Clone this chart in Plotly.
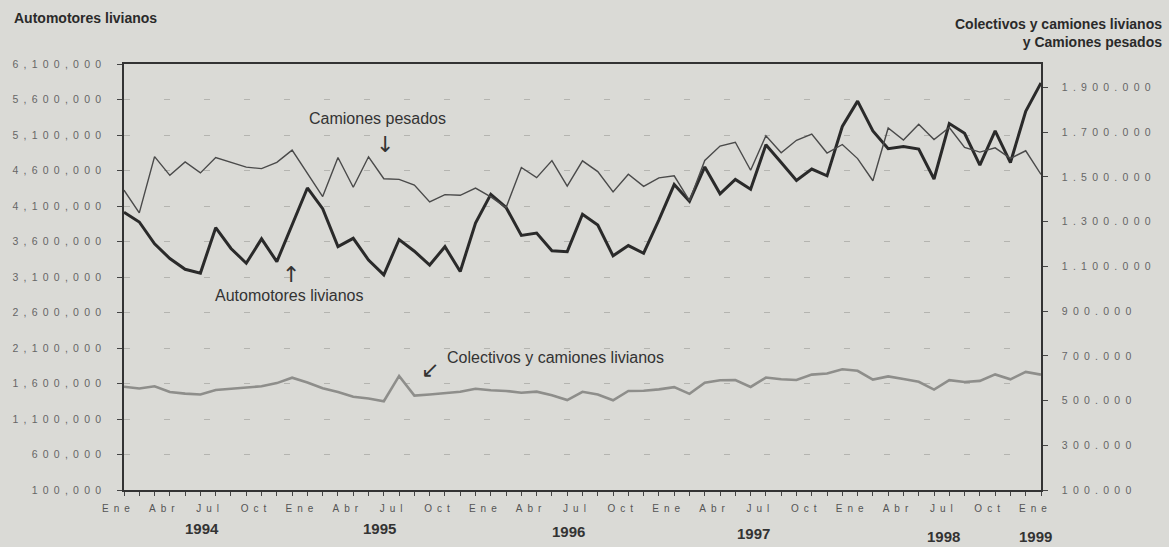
import plotly.graph_objects as go

# ---- data (monthly, Ene 1994 .. Ene 1999) ----
month_names = ["Ene", "Feb", "Mar", "Abr", "May", "Jun", "Jul", "Ago", "Sep", "Oct", "Nov", "Dic"]
months = list(range(61))

automotores_livianos = [4012000, 3875000, 3567000, 3360000, 3209000, 3155000, 3795000, 3502000, 3294000, 3637000,
                        3316000, 3842000, 4354000, 4062000, 3528000, 3645000, 3339000, 3130000, 3628000, 3463000,
                        3268000, 3527000, 3178000, 3859000, 4265000, 4079000, 3686000, 3719000, 3469000, 3457000,
                        3984000, 3833000, 3398000, 3543000, 3435000, 3904000, 4402000, 4166000, 4650000, 4272000,
                        4474000, 4336000, 4962000, 4712000, 4460000, 4620000, 4525000, 5220000, 5577000, 5158000,
                        4907000, 4939000, 4901000, 4480000, 5261000, 5124000, 4675000, 5159000, 4712000, 5435000,
                        5834000]

camiones_pesados = [1441000, 1339000, 1591000, 1507000, 1567000, 1518000, 1587000, 1566000, 1544000, 1537000,
                    1565000, 1620000, 1513000, 1412000, 1587000, 1454000, 1590000, 1492000, 1489000, 1464000,
                    1388000, 1421000, 1418000, 1450000, 1411000, 1363000, 1542000, 1497000, 1573000, 1459000,
                    1572000, 1524000, 1433000, 1512000, 1458000, 1496000, 1505000, 1394000, 1574000, 1638000,
                    1655000, 1530000, 1684000, 1608000, 1664000, 1692000, 1607000, 1645000, 1582000, 1483000,
                    1719000, 1665000, 1736000, 1667000, 1721000, 1632000, 1611000, 1630000, 1583000, 1617000,
                    1511000]

colectivos_camiones_livianos = [562000, 554000, 564000, 538000, 531000, 527000, 547000, 552000, 558000, 564000,
                                578000, 602000, 581000, 555000, 538000, 517000, 509000, 497000, 610000, 522000,
                                527000, 533000, 539000, 553000, 546000, 543000, 535000, 540000, 524000, 502000,
                                539000, 527000, 501000, 543000, 544000, 550000, 560000, 530000, 580000, 591000,
                                592000, 561000, 603000, 595000, 592000, 616000, 621000, 640000, 633000, 594000,
                                608000, 596000, 584000, 549000, 591000, 583000, 588000, 617000, 595000, 628000,
                                616000]

left_ticks = list(range(100000, 6100001, 500000))
right_ticks = list(range(100000, 1900001, 200000))
years = ["1994", "1995", "1996", "1997", "1998", "1999"]

SP = "\u2002"


def spaced(s):
    return SP.join(s)


def fmt(v, sep):
    return spaced(f"{v:,}".replace(",", sep))


x_ticktext = [spaced(month_names[m % 12]) if m % 3 == 0 else "" for m in months]
left_ticktext = [fmt(v, ",") for v in left_ticks]
right_ticktext = [fmt(v, ".") for v in right_ticks]

# ---- layout geometry ----
W, H = 1169, 547
ML, MR, MT, MB = 120, 128, 64, 57
PW, PH = W - ML - MR, H - MT - MB


def px(xp):
    return (xp - ML) / PW


def py(yp):
    return (H - MB - yp) / PH


BG = "#dadad6"
FONT = "Liberation Sans, Arial, sans-serif"
ARROWFONT = "DejaVu Sans, sans-serif"

fig = go.Figure()
fig.add_trace(go.Scatter(x=months, y=colectivos_camiones_livianos, yaxis="y2", mode="lines",
                         line=dict(color="#8e8e8b", width=2.6), name="Colectivos y camiones livianos"))
fig.add_trace(go.Scatter(x=months, y=camiones_pesados, yaxis="y2", mode="lines",
                         line=dict(color="#4a4a4a", width=1.4), name="Camiones pesados"))
fig.add_trace(go.Scatter(x=months, y=automotores_livianos, yaxis="y", mode="lines",
                         line=dict(color="#2a2a2a", width=3), name="Automotores livianos"))

annotations = [
    dict(text="Automotores livianos", x=px(8), y=py(18), xref="paper", yref="paper",
         xanchor="left", yanchor="middle", showarrow=False,
         font=dict(family=FONT, size=14, color="#2a2a2a", weight="bold")),
    dict(text="Colectivos y camiones livianos<br>y Camiones pesados", x=px(1165), y=py(33),
         xref="paper", yref="paper", xanchor="right", yanchor="middle", align="right", showarrow=False,
         font=dict(family=FONT, size=14, color="#2a2a2a", weight="bold")),
    dict(text="Camiones pesados", x=16.6, y=5339000, xref="x", yref="y", showarrow=False,
         font=dict(family=FONT, size=16, color="#333333")),
    dict(text="\u2193", x=17.1, y=4960000, xref="x", yref="y", showarrow=False,
         font=dict(family=ARROWFONT, size=22, color="#333333")),
    dict(text="Automotores livianos", x=10.83, y=2846000, xref="x", yref="y", showarrow=False,
         font=dict(family=FONT, size=16, color="#333333")),
    dict(text="\u2191", x=10.9, y=3135000, xref="x", yref="y", showarrow=False,
         font=dict(family=ARROWFONT, size=22, color="#333333")),
    dict(text="Colectivos y camiones livianos", x=21.0, y=1966000, xref="x", yref="y",
         xanchor="left", showarrow=False, font=dict(family=FONT, size=16, color="#333333")),
    dict(text="\u2199", x=20.0, y=1800000, xref="x", yref="y", showarrow=False,
         font=dict(family=ARROWFONT, size=22, color="#333333")),
]

year_pos = [(198, 528), (377, 528), (566, 531), (752, 533), (943, 536), (1035, 536)]
for yr, (xp, yp) in zip(years, year_pos):
    annotations.append(dict(text=yr, x=px(xp), y=py(yp), xref="paper", yref="paper",
                            showarrow=False, xanchor="center", yanchor="middle",
                            font=dict(family=FONT, size=15, color="#333333", weight="bold")))

fig.update_layout(
    width=W, height=H,
    margin=dict(l=ML, r=MR, t=MT, b=MB),
    paper_bgcolor=BG, plot_bgcolor=BG,
    showlegend=False,
    font=dict(family=FONT, color="#555555"),
    xaxis=dict(range=[0, 60], tickmode="array", tickvals=months, ticktext=x_ticktext,
               showline=True, linecolor="#333333", linewidth=1.5, mirror=True,
               ticks="outside", ticklen=4, tickcolor="#444444", showgrid=False, zeroline=False,
               tickfont=dict(size=10, color="#555555"), ticklabelshift=-8, ticklabelstandoff=4),
    yaxis=dict(range=[100000, 6100000], tickmode="array", tickvals=left_ticks, ticktext=left_ticktext,
               showline=True, linecolor="#333333", linewidth=1.5,
               ticks="outside", ticklen=5, tickcolor="#444444",
               showgrid=True, gridcolor="#b4b4b0", griddash="6px,34px", gridwidth=1, zeroline=False,
               tickfont=dict(size=10.5, color="#666666"), ticklabelstandoff=14),
    yaxis2=dict(range=[100000, 2005000], overlaying="y", side="right", tickmode="array",
                tickvals=right_ticks, ticktext=right_ticktext,
                showline=True, linecolor="#333333", linewidth=1.5,
                ticks="outside", ticklen=5, tickcolor="#444444", showgrid=False, zeroline=False,
                tickfont=dict(size=10.5, color="#666666"), ticklabelstandoff=12),
    annotations=annotations,
)

fig.write_html("out.html", config={"displayModeBar": False},
               post_script="document.body.style.margin='0';document.body.style.background='" + BG + "';")
